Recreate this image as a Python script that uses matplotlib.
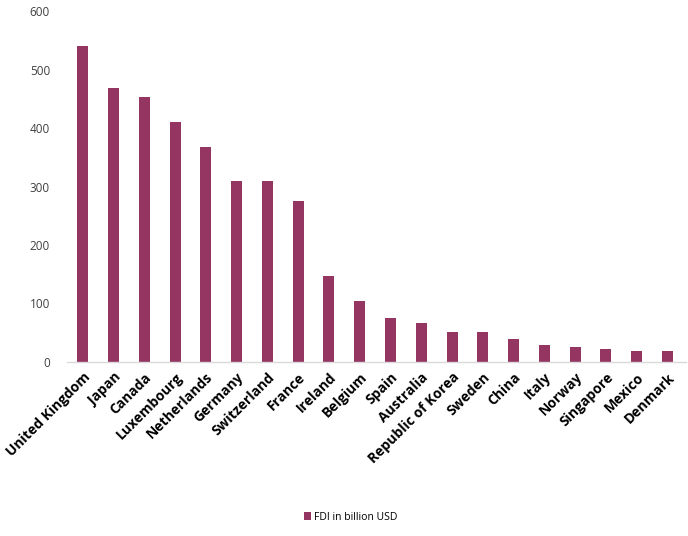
import matplotlib
matplotlib.use("Agg")
import matplotlib.pyplot as plt

countries = ["United Kingdom", "Japan", "Canada", "Luxembourg", "Netherlands",
             "Germany", "Switzerland", "France", "Ireland", "Belgium", "Spain",
             "Australia", "Republic of Korea", "Sweden", "China", "Italy",
             "Norway", "Singapore", "Mexico", "Denmark"]
fdi = [540, 468, 453, 410, 367, 309, 309, 275, 147, 104, 75, 67, 51, 51, 39,
       29, 26, 22, 19, 19]
yticks = [0, 100, 200, 300, 400, 500, 600]
series_name = "FDI in billion USD"

color = "#953562"
plt.rcParams['font.family'] = ['Open Sans', 'DejaVu Sans']

fig = plt.figure(figsize=(6.88, 5.36), dpi=100)
ax = fig.add_axes([0.097, 0.325, 0.9, 0.654])
x = list(range(len(countries)))
ax.bar(x, fdi, width=0.36, color=color, label=series_name, zorder=2)
ax.set_xlim(-0.52, 19.6)
ax.set_ylim(0, 600)
ax.set_yticks(yticks)
ax.set_yticklabels([str(v) for v in yticks], fontsize=8.5, color="#404040")
ax.set_xticks(x)
ax.set_xticklabels(countries, rotation=45, ha="right", rotation_mode="anchor",
                   fontsize=10, fontweight="bold", color="black")
ax.tick_params(axis="both", length=0)
ax.tick_params(axis="y", pad=12)
ax.tick_params(axis="x", pad=6)
for s in ["top", "right", "left"]:
    ax.spines[s].set_visible(False)
ax.spines["bottom"].set_color("#d9d9d9")
ax.spines["bottom"].set_linewidth(1)

fig.legend(loc="center", bbox_to_anchor=(0.51, 0.035), frameon=False,
           fontsize=7.5, handlelength=0.7, handleheight=0.7, handletextpad=0.3)
fig.savefig("out.png", dpi=100)
